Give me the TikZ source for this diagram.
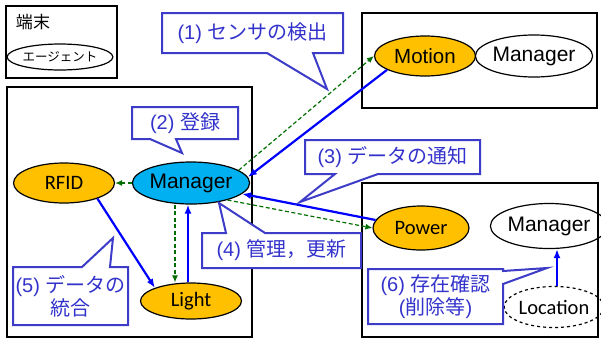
\documentclass[tikz,border=0pt]{standalone}
\usepackage{fontspec}
\setmainfont{Liberation Sans}
\newfontfamily\jpf{Noto Sans CJK JP}
\newfontfamily\calf{Carlito}
\usetikzlibrary{shapes.geometric,arrows.meta}
\definecolor{cblue}{RGB}{60,60,200}
\definecolor{ctext}{RGB}{51,51,204}
\definecolor{orfill}{RGB}{255,192,0}
\definecolor{bfill}{RGB}{0,176,240}
\definecolor{gline}{RGB}{0,110,0}
\definecolor{bline}{RGB}{0,0,255}
\begin{document}
\begin{tikzpicture}[x=1pt,y=-1pt,
 frame/.style={draw=black,line width=1.8pt},
 ell/.style={ellipse,draw=black,line width=1.2pt,inner sep=0pt,font=\fontsize{21}{23}\selectfont},
 ag/.style={ell,fill=orfill,font=\calf\fontsize{20.5}{22}\selectfont},
 call/.style={draw=cblue,line width=2pt,fill=white,line join=miter},
 ctxt/.style={text=ctext,font=\fontsize{20}{23}\selectfont,inner sep=0pt,align=center},
 bar/.style={draw=bline,line width=2.2pt,-{Latex[length=9pt,width=7pt]}},
 gdash/.style={draw=gline,line width=1.2pt,dash pattern=on 4pt off 2.5pt,-{Latex[length=7pt,width=6pt]}}
]
\useasboundingbox (0,0) rectangle (601,338);

% frames
\draw[frame] (6,6) rectangle (117,78);
\draw[frame] (7,87) rectangle (252,337);
\draw[frame] (362,13) rectangle (597,108);
\draw[frame] (362,183) rectangle (598,337);

% legend
\node[font=\jpf\fontsize{17}{19}\selectfont,inner sep=0pt] (lgt) at (33,22) {端末};
\node[ellipse,draw=black,line width=1.2pt,inner sep=0pt,minimum width=92pt,minimum height=26pt,font=\jpf\fontsize{12.5}{14}\selectfont] (lge) at (60,57) {エージェント};

% nodes
\node[ag,minimum width=101pt,minimum height=40pt,font=\fontsize{20.5}{22}\selectfont] (motion) at (425,56) {Motion};
\node[ell,minimum width=104pt,minimum height=42pt] (mgrt) at (534,56) {Manager};
\node[ell,fill=bfill,minimum width=96pt,minimum height=42pt] (mgr) at (191,183) {Manager};
\node[ag,minimum width=101pt,minimum height=40pt] (rfid) at (64,183) {RFID};
\node[ag,minimum width=101pt,minimum height=36pt] (light) at (191,301) {Light};
\node[ag,minimum width=96pt,minimum height=44pt] (power) at (421,228) {Power};
\node[ell,minimum width=103pt,minimum height=45pt] (mgrb) at (549,226) {Manager};
\node[ell,dashed,font=\calf\fontsize{20.5}{22}\selectfont,minimum width=92pt,minimum height=41pt] (loc) at (554,307) {Location};

% connectors
\draw[gdash] (mgr.15) -- (motion.west);
\draw[bar] (motion.200) -- (mgr.6);
\draw[bar] (power.170) -- (mgr.-12);
\draw[gdash] (mgr.-25) -- (power.west);
\draw[gdash] (mgr.west) -- (rfid.east);
\draw[gdash] ([xshift=-16pt]mgr.south) -- ([xshift=-16pt]light.north);
\draw[bar] ([xshift=-3pt]light.north) -- ([xshift=-3pt]mgr.south);
\draw[bar] (rfid.-25) -- (light.160);
\draw[bar] ([xshift=3pt]loc.north) -- ([xshift=8pt]mgrb.south);

% callouts
\draw[call] (162,13) -- (343,13) -- (343,53) -- (313,53) -- (327,89) -- (267,53) -- (162,53) -- cycle;
\node[ctxt] (c1) at (252.5,33) {(1) {\jpf センサの検出}};

\draw[call] (132,107) -- (238,107) -- (238,139) -- (176,139) -- (182,153) -- (150,139) -- (132,139) -- cycle;
\node[ctxt] (c2) at (185,123) {(2) {\jpf 登録}};

\draw[call] (305,140) -- (480,140) -- (480,174) -- (378,174) -- (300,202) -- (335,174) -- (305,174) -- cycle;
\node[ctxt] (c3) at (392.5,157) {(3) {\jpf データの通知}};

\draw[call] (202,233) -- (226,233) -- (219,203) -- (265,233) -- (361,233) -- (361,268) -- (202,268) -- cycle;
\node[ctxt] (c4) at (281.5,250.5) {(4) {\jpf 管理，更新}};

\draw[call] (13,267) -- (82,267) -- (113,238) -- (110,267) -- (128,267) -- (128,325) -- (13,325) -- cycle;
\node[ctxt] (c5) at (70.5,296) {(5) {\jpf データの}\\{\jpf 統合}};

\draw[call] (368,269) -- (503,269) -- (503,271) -- (547,268) -- (503,284) -- (503,324) -- (368,324) -- cycle;
\node[ctxt] (c6) at (435.5,296.5) {(6) {\jpf 存在確認}\\({\jpf 削除等})};
\end{tikzpicture}
\end{document}
